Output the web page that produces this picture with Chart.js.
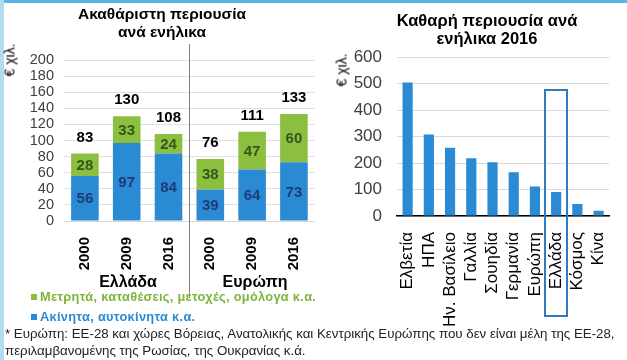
<!DOCTYPE html>
<html><head><meta charset="utf-8">
<script src="https://cdn.jsdelivr.net/npm/chart.js@4.4.1/dist/chart.umd.min.js"></script>
<style>
html,body{margin:0;padding:0;background:#fff;}
body{width:627px;height:360px;position:relative;overflow:hidden;font-family:"Liberation Sans",Arial,sans-serif;}
.abs{position:absolute;white-space:nowrap;}
#topbar{left:0;top:0;width:627px;height:3px;background:#5ab3e6;}
#leftbar{left:0;top:0;width:4px;height:360px;background:#b3dcf3;}
.title{font-weight:bold;color:#000;text-align:center;line-height:18px;}
.ylab{font-size:14px;font-weight:normal;color:#000;transform:rotate(-90deg);transform-origin:center center;}
.grp{font-weight:bold;font-size:16px;color:#000;transform:translateX(-50%);}
.leg{font-weight:bold;font-size:12.8px;letter-spacing:0.3px;}
.sq{display:inline-block;width:6px;height:6px;margin-right:3px;vertical-align:1px;}
.foot{font-size:13.3px;color:#222;line-height:17px;}
canvas{position:absolute;}
</style></head>
<body>
<div id="topbar" class="abs"></div>
<div id="leftbar" class="abs"></div>
<canvas id="c1" style="left:0;top:0;width:320px;height:300px" width="320" height="300"></canvas>
<canvas id="c2" style="left:320px;top:0;width:307px;height:330px" width="307" height="330"></canvas>
<div class="abs title" style="left:62px;top:5px;width:200px;font-size:15.5px">Ακαθάριστη περιουσία<br>ανά ενήλικα</div>
<div class="abs title" style="left:387px;top:11px;width:200px;font-size:16.5px">Καθαρή περιουσία ανά<br>ενήλικα 2016</div>
<div class="abs ylab" style="left:-7px;top:52px;">€ χιλ.</div>
<div class="abs ylab" style="left:325px;top:62px;">€ χιλ.</div>
<div class="abs grp" style="left:128px;top:273px;">Ελλάδα</div>
<div class="abs grp" style="left:255px;top:273px;">Ευρώπη</div>
<div class="abs leg" style="left:31px;top:289px;color:#7fb33a"><span class="sq" style="background:#8cbf3f"></span>Μετρητά, καταθέσεις, μετοχές, ομόλογα κ.α.</div>
<div class="abs leg" style="left:31px;top:309px;color:#2a8ad4"><span class="sq" style="background:#2a8ad4"></span>Ακίνητα, αυτοκίνητα κ.α.</div>
<div class="abs foot" style="left:5px;top:325px;">* Ευρώπη: ΕΕ-28 και χώρες Βόρειας, Ανατολικής και Κεντρικής Ευρώπης που δεν είναι μέλη της ΕΕ-28,<br>περιλαμβανομένης της Ρωσίας, της Ουκρανίας κ.ά.</div>
<script>
// ---- Data: left chart (gross wealth per adult, € thousand)
const yearLabels = ['2000','2009','2016','2000','2009','2016'];
const groupNames = ['Ελλάδα','Ευρώπη'];
const realAssets = [56, 97, 84, 39, 64, 73];
const financialAssets = [28, 33, 24, 38, 47, 60];
const grossTotals = [83, 130, 108, 76, 111, 133];
const leftTicks = [0,20,40,60,80,100,120,140,160,180,200];
// ---- Data: right chart (net wealth per adult 2016, € thousand)
const countries = ['Ελβετία','ΗΠΑ','Ην. Βασίλειο','Γαλλία','Σουηδία','Γερμανία','Ευρώπη','Ελλάδα','Κόσμος','Κίνα'];
const netWealth = [504, 308, 258, 218, 203, 165, 111, 91, 45, 20];
const rightTicks = [0,100,200,300,400,500,600];
const highlightCountry = 'Ελλάδα';

const FONT = '"Liberation Sans", Arial, sans-serif';
Chart.defaults.font.family = FONT;
Chart.defaults.animation = false;
Chart.defaults.devicePixelRatio = 1;

const BLUE = '#2a8ad4', GREEN = '#8cbf3f';

const labelPlugin = {
  id: 'lbl',
  afterDatasetsDraw(chart) {
    const ctx = chart.ctx;
    const m0 = chart.getDatasetMeta(0), m1 = chart.getDatasetMeta(1);
    ctx.save();
    ctx.textAlign = 'center'; ctx.textBaseline = 'middle';
    ctx.font = 'bold 15px ' + FONT;
    m0.data.forEach((b, i) => {
      ctx.fillStyle = '#1f3c78';
      ctx.fillText(String(realAssets[i]), b.x, (b.y + b.base) / 2 + 1);
      const g = m1.data[i];
      ctx.fillStyle = '#33561c';
      ctx.fillText(String(financialAssets[i]), g.x, (g.y + g.base) / 2 + 1);
      ctx.fillStyle = '#000';
      ctx.fillText(String(grossTotals[i]), g.x, g.y - 16);
    });
    // separator between country groups
    const xs = chart.scales.x;
    const sx = Math.round((xs.getPixelForValue(2) + xs.getPixelForValue(3)) / 2) + 0.5;
    ctx.strokeStyle = '#7f7f7f'; ctx.lineWidth = 1;
    ctx.beginPath();
    ctx.moveTo(sx, chart.chartArea.top - 16);
    ctx.lineTo(sx, chart.chartArea.bottom + 76);
    ctx.stroke();
    ctx.restore();
  }
};

new Chart(document.getElementById('c1'), {
  type: 'bar',
  data: {
    labels: yearLabels,
    datasets: [
      { label: 'Ακίνητα, αυτοκίνητα κ.α.', data: realAssets, backgroundColor: BLUE, categoryPercentage: 1, barPercentage: 0.66 },
      { label: 'Μετρητά, καταθέσεις, μετοχές, ομόλογα κ.α.', data: financialAssets, backgroundColor: GREEN, categoryPercentage: 1, barPercentage: 0.66 }
    ]
  },
  options: {
    responsive: false,
    layout: { padding: { top: 60, right: 1, left: 0, bottom: 0 } },
    plugins: { legend: { display: false }, tooltip: { enabled: false } },
    scales: {
      x: {
        stacked: true,
        grid: { display: false },
        border: { display: true, color: '#d9d9d9' },
        ticks: { autoSkip: false, minRotation: 90, maxRotation: 90, padding: 8, color: '#000', font: { size: 15, weight: 'bold' } },
        afterFit(s) { s.height = 79; }
      },
      y: {
        stacked: true, min: 0, max: 200,
        afterBuildTicks(s) { s.ticks = leftTicks.map(v => ({ value: v })); },
        grid: { color: '#e0e0e0', drawTicks: false },
        border: { display: false },
        ticks: { autoSkip: false, padding: 10, color: '#404040', font: { size: 14.5 } },
        afterFit(s) { s.width = 64; }
      }
    }
  },
  plugins: [labelPlugin]
});

const boxPlugin = {
  id: 'box',
  afterDatasetsDraw(chart) {
    const ctx = chart.ctx;
    const i = countries.indexOf(highlightCountry);
    const xs = chart.scales.x, ys = chart.scales.y;
    const cx = xs.getPixelForValue(i);
    const half = 11;
    const top = ys.getPixelForValue(474);
    const bottom = chart.chartArea.bottom + 100;
    ctx.save();
    ctx.strokeStyle = '#2e7bc4'; ctx.lineWidth = 2;
    ctx.strokeRect(Math.round(cx - half), Math.round(top), half * 2, Math.round(bottom - top));
    ctx.restore();
  }
};

new Chart(document.getElementById('c2'), {
  type: 'bar',
  data: {
    labels: countries,
    datasets: [{ label: 'Καθαρή περιουσία', data: netWealth, backgroundColor: BLUE, categoryPercentage: 1, barPercentage: 0.48 }]
  },
  options: {
    responsive: false,
    layout: { padding: { top: 57, right: 0, left: 0, bottom: 0 } },
    plugins: { legend: { display: false }, tooltip: { enabled: false } },
    scales: {
      x: {
        grid: { display: false },
        border: { display: true, color: '#000', width: 1.5 },
        ticks: { autoSkip: false, minRotation: 90, maxRotation: 90, padding: 8, color: '#000', font: { size: 17 } },
        afterFit(s) { s.height = 114; }
      },
      y: {
        min: 0, max: 600,
        afterBuildTicks(s) { s.ticks = rightTicks.map(v => ({ value: v })); },
        grid: { color: '#d9d9d9', drawTicks: false },
        border: { display: false },
        ticks: { autoSkip: false, padding: 15, color: '#404040', font: { size: 17 } },
        afterFit(s) { s.width = 77; }
      }
    }
  },
  plugins: [boxPlugin]
});
</script>
</body></html>
